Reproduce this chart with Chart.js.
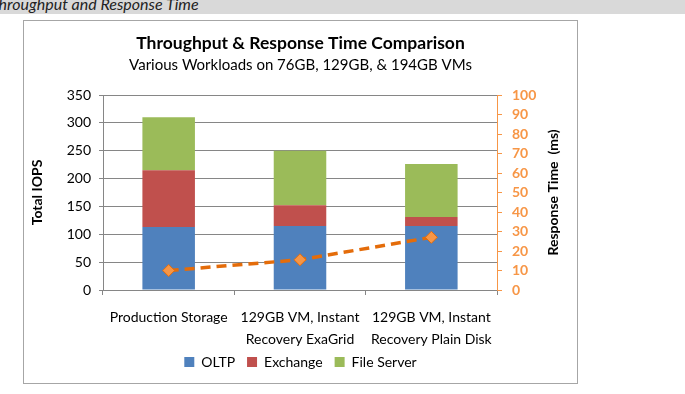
<!DOCTYPE html>
<html>
<head>
<meta charset="utf-8">
<script src="https://cdn.jsdelivr.net/npm/chart.js@4"></script>
<style>
    body { margin: 0; background: #fff; width: 685px; height: 394px; overflow: hidden; position: relative; }
    #header { position: absolute; left: 0; top: 0; width: 685px; height: 14px; background: #d9d9d9; overflow: hidden; }
    #header span { position: absolute; left: -10px; top: -6px; font: italic 16px Lato, sans-serif; color: #222; white-space: nowrap; }
    #box { position: absolute; left: 23px; top: 20px; width: 553px; height: 362px; border: 1px solid #a6a6a6; }
</style>
</head>
<body>
<div id="header"><span>Throughput and Response Time</span></div>
<div id="box"><canvas id="Chart1" width="553" height="362"></canvas></div>
<script>
// values
const categories = [
    'Production Storage',
    ['129GB VM, Instant', 'Recovery ExaGrid'],
    ['129GB VM, Instant', 'Recovery Plain Disk']
];
const oltp = [113, 115, 115];
const exchange = [102, 37, 16];
const fileServer = [95, 98, 95];
const responseTime = [10, 15.5, 27];

const iopsMax = 350;
const iopsStep = 50;
const timeMax = 100;
const timeStep = 10;

const gray = '#868686';
const orange = '#F79646';

Chart.defaults.font.family = 'Lato, sans-serif';
Chart.defaults.color = '#000';

// right axis title reads bottom-to-top like the left one
const rightTitle = {
    id: 'rightTitle',
    afterDraw: function (chart) {
        const s = chart.scales.y2;
        const c = chart.ctx;
        c.save();
        c.translate(s.right - 24, (s.top + s.bottom) / 2);
        c.rotate(-Math.PI / 2);
        c.textAlign = 'center';
        c.textBaseline = 'middle';
        c.fillStyle = '#000';
        c.font = 'bold 14px Lato, sans-serif';
        c.fillText('Response Time  (ms)', 0, 0);
        c.restore();
    }
};

window.onload = function () {
    const ctx = document.getElementById('Chart1').getContext('2d');
    new Chart(ctx, {
        type: 'bar',
        data: {
            labels: categories,
            datasets: [{
                    type: 'line',
                    label: 'Response Time',
                    data: responseTime,
                    yAxisID: 'y2',
                    borderColor: '#E46C0A',
                    borderWidth: 3.5,
                    borderDash: [10, 6],
                    pointStyle: 'rectRot',
                    pointRadius: 6,
                    pointBackgroundColor: orange,
                    pointBorderColor: '#E46C0A',
                    pointBorderWidth: 1,
                    fill: false,
                    order: 0
                }, {
                    label: 'OLTP',
                    data: oltp,
                    backgroundColor: '#4F81BD',
                    order: 1
                }, {
                    label: 'Exchange',
                    data: exchange,
                    backgroundColor: '#C0504D',
                    order: 1
                }, {
                    label: 'File Server',
                    data: fileServer,
                    backgroundColor: '#9BBB59',
                    order: 1
                }]
        },
        options: {
            responsive: false,
            animation: false,
            categoryPercentage: 1,
            barPercentage: 0.4,
            layout: {padding: {left: 0, right: 0, top: 0, bottom: 4}},
            plugins: {
                title: {
                    display: true,
                    text: 'Throughput & Response Time Comparison',
                    font: {size: 17.5, weight: 'bold'},
                    color: '#000',
                    padding: {top: 12, bottom: 2}
                },
                subtitle: {
                    display: true,
                    text: 'Various Workloads on 76GB, 129GB, & 194GB VMs',
                    font: {size: 15},
                    color: '#000',
                    padding: {top: 0, bottom: 21}
                },
                legend: {
                    position: 'bottom',
                    labels: {
                        boxWidth: 10,
                        boxHeight: 10,
                        font: {size: 14},
                        padding: 12,
                        filter: item => item.datasetIndex !== 0
                    }
                },
                tooltip: {enabled: false}
            },
            scales: {
                x: {
                    stacked: true,
                    grid: {drawOnChartArea: false, offset: true, tickLength: 5, color: gray},
                    border: {color: gray},
                    ticks: {font: {size: 14, lineHeight: 1.6}, padding: 11, maxRotation: 0},
                    afterFit: function (scale) {
                        scale.height = 53;
                        // two-line labels run past the fixed height, so don't clip them
                        scale._computeLabelArea = function () {};
                    }
                },
                y: {
                    stacked: true,
                    position: 'left',
                    min: 0,
                    max: iopsMax,
                    ticks: {stepSize: iopsStep, font: {size: 14}, padding: 8},
                    grid: {color: gray, tickLength: 4},
                    border: {color: gray},
                    title: {display: true, text: 'Total IOPS', font: {size: 14, weight: 'bold'}, padding: {top: 5, bottom: 0}},
                    afterFit: function (scale) { scale.width = 79; }
                },
                y2: {
                    position: 'right',
                    min: 0,
                    max: timeMax,
                    ticks: {stepSize: timeStep, autoSkip: false, color: orange, font: {size: 14, weight: 'bold'}, padding: 10},
                    grid: {drawOnChartArea: false, color: orange, tickLength: 5},
                    border: {color: orange},
                    title: {display: false},
                    afterFit: function (scale) { scale.width = 80; }
                }
            }
        },
        plugins: [rightTitle]
    });
};
</script>
</body>
</html>
